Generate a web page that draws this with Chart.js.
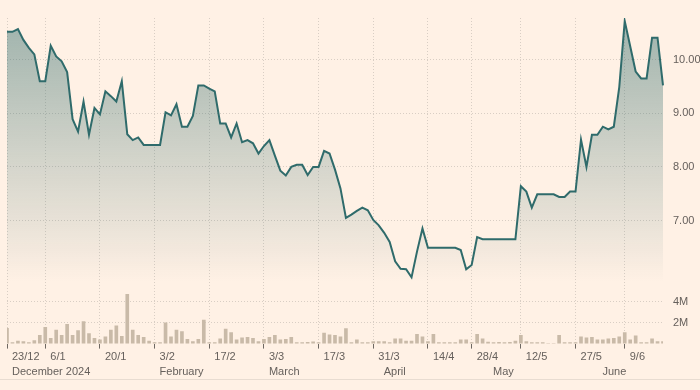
<!DOCTYPE html>
<html>
<head>
<meta charset="utf-8">
<script src="https://cdn.jsdelivr.net/npm/chart.js@4/dist/chart.umd.min.js"></script>
<style>
  html, body { margin: 0; background: #fff1e5; }
  #wrap { width: 700px; height: 379px; border-bottom: 1px solid #e8dcd1; }
</style>
</head>
<body>
<div id="wrap"><canvas id="priceChart" width="700" height="379"></canvas></div>
<script>
// Trading days, 23 Dec 2024 - 18 Jun 2025
const dates = ("23/12 24/12 27/12 30/12 31/12 " +
  "2/1 3/1 6/1 7/1 8/1 9/1 10/1 13/1 14/1 15/1 16/1 17/1 20/1 21/1 22/1 23/1 24/1 27/1 28/1 29/1 30/1 31/1 " +
  "3/2 4/2 5/2 6/2 7/2 10/2 11/2 12/2 13/2 14/2 17/2 18/2 19/2 20/2 21/2 24/2 25/2 26/2 27/2 28/2 " +
  "3/3 4/3 5/3 6/3 7/3 10/3 11/3 12/3 13/3 14/3 17/3 18/3 19/3 20/3 21/3 24/3 25/3 26/3 27/3 28/3 31/3 " +
  "1/4 2/4 3/4 4/4 7/4 8/4 9/4 10/4 11/4 14/4 15/4 16/4 17/4 22/4 23/4 24/4 25/4 28/4 29/4 30/4 " +
  "1/5 2/5 6/5 7/5 8/5 9/5 12/5 13/5 14/5 15/5 16/5 19/5 20/5 21/5 22/5 23/5 27/5 28/5 29/5 30/5 " +
  "2/6 3/6 4/6 5/6 6/6 9/6 10/6 11/6 12/6 13/6 16/6 17/6 18/6").split(" ");

const prices = [
  10.52, 10.52, 10.57, 10.37, 10.22, 10.10, 9.60, 9.60, 10.26, 10.06,
  9.97, 9.77, 8.89, 8.66, 9.22, 8.60, 9.10, 8.98, 9.41, 9.32,
  9.22, 9.60, 8.61, 8.50, 8.55, 8.41, 8.41, 8.41, 8.41, 9.02,
  8.96, 9.17, 8.75, 8.75, 8.95, 9.52, 9.52, 9.46, 9.41, 8.81,
  8.81, 8.55, 8.81, 8.46, 8.50, 8.44, 8.25, 8.39, 8.50, 8.21,
  7.93, 7.84, 8.00, 8.04, 8.04, 7.85, 8.00, 8.00, 8.30, 8.25,
  7.95, 7.60, 7.05, 7.11, 7.18, 7.24, 7.19, 7.01, 6.91, 6.77,
  6.60, 6.24, 6.10, 6.09, 5.94, 6.42, 6.85, 6.49, 6.49, 6.49,
  6.49, 6.49, 6.49, 6.45, 6.09, 6.17, 6.69, 6.65, 6.65, 6.65,
  6.65, 6.65, 6.65, 6.65, 7.64, 7.54, 7.24, 7.49, 7.49, 7.49,
  7.49, 7.44, 7.44, 7.54, 7.54, 8.51, 8.00, 8.60, 8.60, 8.75,
  8.70, 8.75, 9.49, 10.72, 10.25, 9.78, 9.65, 9.65, 10.41, 10.41,
  9.52
];

// volume, millions of shares
const volumes = [
  1.46, 0.10, 0.25, 0.20, 0.10, 0.30, 0.80, 1.55, 0.50, 1.30,
  0.80, 1.85, 0.80, 1.25, 2.10, 0.95, 0.50, 0.35, 0.65, 1.30,
  1.70, 0.70, 6.00, 1.30, 0.80, 0.60, 0.25, 0.10, 0.10, 2.00,
  0.65, 1.30, 1.15, 0.40, 0.20, 0.40, 2.25, 0.10, 0.10, 0.45,
  1.40, 1.05, 0.35, 0.55, 0.60, 0.50, 0.20, 0.40, 0.60, 0.80,
  0.35, 0.40, 0.60, 0.10, 0.10, 0.12, 0.18, 0.10, 1.00, 0.85,
  0.80, 0.65, 1.45, 0.10, 0.35, 0.10, 0.10, 0.20, 0.20, 0.20,
  0.10, 0.45, 0.45, 0.25, 0.25, 0.90, 0.65, 0.20, 0.90, 0.10,
  0.10, 0.10, 0.10, 0.35, 0.35, 0.10, 0.90, 0.45, 0.15, 0.10,
  0.12, 0.10, 0.12, 0.25, 0.80, 0.20, 0.10, 0.10, 0.10, 0,
  0, 0.80, 0.10, 0.10, 0.10, 0.65, 0.55, 0.60, 0.35, 0.35,
  0.45, 0.50, 0.65, 1.05, 0.35, 0.75, 0.10, 0.10, 0.45, 0.20,
  0.20
];

const tickDates = ['23/12', '6/1', '20/1', '3/2', '17/2', '3/3', '17/3', '31/3', '14/4', '28/4', '12/5', '27/5', '9/6'];
const monthStarts = ['23/12', '3/2', '3/3', '1/4', '1/5', '2/6'];
const monthNames = ['December 2024', 'February', 'March', 'April', 'May', 'June'];
const priceTicks = [7, 8, 9, 10];
const volumeTicks = [2, 4];

const textColor = '#66605c';
const gridColor = '#d9cec4';
const font = { family: "'Liberation Sans', Arial, sans-serif", size: 11 };

function areaFill(context) {
    const chart = context.chart;
    const area = chart.chartArea;
    if (!area) return 'rgba(45,105,105,0.2)';
    const bottom = chart.scales.y.getPixelForValue(5.85);
    const g = chart.ctx.createLinearGradient(0, area.top, 0, bottom);
    g.addColorStop(0, 'rgba(45,105,105,0.46)');
    g.addColorStop(0.53, 'rgba(45,105,105,0.21)');
    g.addColorStop(0.77, 'rgba(45,105,105,0.11)');
    g.addColorStop(1, 'rgba(45,105,105,0)');
    return g;
}

new Chart(document.getElementById('priceChart'), {
    data: {
        labels: dates,
        datasets: [{
            type: 'line',
            data: prices,
            yAxisID: 'y',
            borderColor: '#2f6b6b',
            borderWidth: 2,
            pointRadius: 0,
            tension: 0,
            fill: 'start',
            backgroundColor: areaFill
        }, {
            type: 'bar',
            data: volumes,
            yAxisID: 'v',
            backgroundColor: '#c9baa8',
            barThickness: 3
        }]
    },
    options: {
        responsive: false,
        animation: false,
        layout: { padding: { left: 7, top: 18, right: 0, bottom: 0 } },
        plugins: { legend: { display: false }, tooltip: { enabled: false } },
        scales: {
            x: {
                type: 'category',
                offset: false,
                afterBuildTicks: axis => {
                    axis.ticks = tickDates.map(d => ({ value: dates.indexOf(d) }));
                },
                grid: {
                    color: gridColor,
                    tickColor: '#6e6862',
                    tickLength: 5,
                    tickBorderDash: [],
                    offset: false
                },
                border: { display: false, dash: [1, 2] },
                ticks: {
                    autoSkip: false,
                    maxRotation: 0,
                    align: 'start',
                    labelOffset: 5,
                    padding: 2,
                    color: textColor,
                    font: font,
                    callback: function (value) { return dates[value]; }
                }
            },
            x2: {
                type: 'category',
                position: 'bottom',
                offset: false,
                afterBuildTicks: axis => {
                    axis.ticks = monthStarts.map(d => ({ value: dates.indexOf(d) }));
                },
                grid: { display: false, drawTicks: false },
                border: { display: false },
                ticks: {
                    autoSkip: false,
                    maxRotation: 0,
                    align: 'start',
                    labelOffset: 5,
                    padding: 0,
                    color: textColor,
                    font: font,
                    callback: function (value) {
                        return monthNames[monthStarts.indexOf(dates[value])];
                    }
                }
            },
            y: {
                position: 'right',
                stack: 'right',
                stackWeight: 278,
                min: 5.63,
                max: 10.778,
                afterBuildTicks: axis => {
                    axis.ticks = priceTicks.map(v => ({ value: v }));
                },
                afterFit: axis => { axis.width = 37; },
                grid: { color: gridColor, drawTicks: false },
                border: { display: false, dash: [1, 2] },
                ticks: {
                    padding: 10,
                    color: textColor,
                    font: font,
                    callback: v => v.toFixed(2)
                }
            },
            v: {
                position: 'right',
                stack: 'right',
                stackWeight: 50,
                min: 0,
                max: 4.76,
                afterBuildTicks: axis => {
                    axis.ticks = volumeTicks.map(v => ({ value: v }));
                },
                afterFit: axis => { axis.width = 37; },
                grid: { color: gridColor, drawTicks: false },
                border: { display: false, dash: [1, 2] },
                ticks: {
                    padding: 10,
                    color: textColor,
                    font: font,
                    callback: v => v + 'M'
                }
            }
        }
    }
});
</script>
</body>
</html>
